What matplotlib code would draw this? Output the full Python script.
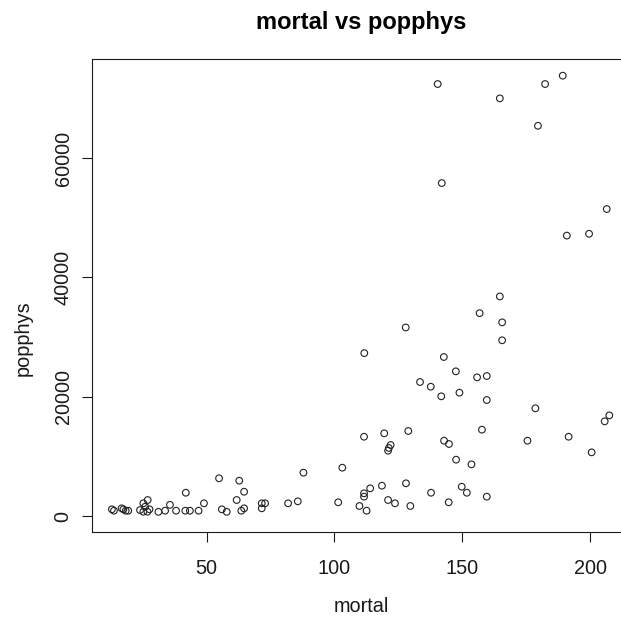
import matplotlib
matplotlib.use("Agg")
import matplotlib.pyplot as plt

# values
mortal = [140.4, 164.7, 182.4, 189.3, 179.6, 142.0, 206.5, 190.9, 199.6,
          164.7, 156.8, 165.6, 127.9, 165.6, 111.7, 142.8, 147.5, 155.8, 159.6,
          133.5, 137.7, 141.8, 148.9, 159.6, 178.6, 207.5, 205.7,
          111.6, 119.5, 128.9, 157.7, 122.0, 121.3, 121.0, 142.9, 144.8, 175.5,
          191.6, 200.6, 147.6, 153.6, 103.1, 87.9,
          114.0, 118.6, 128.0, 111.6, 111.6, 137.8, 149.8, 151.8, 159.6, 101.5,
          109.8, 112.6, 121.0, 123.7, 129.7, 144.7,
          54.9, 62.8, 41.9, 64.7, 61.8, 85.7, 81.9, 72.9, 71.6, 71.6, 64.7, 63.6,
          57.9, 56.0, 49.0, 46.9, 43.5, 41.7, 38.1, 35.7, 33.8, 31.2, 27.0, 25.3,
          26.0, 25.3, 26.9, 27.7, 24.0, 16.8, 17.5, 18.4, 19.4, 13.0, 13.8]
popphys = [72400, 70000, 72400, 73800, 65400, 55800, 51450, 47000, 47300,
           36800, 34000, 32460, 31600, 29450, 27300, 26650, 24250, 23240, 23460,
           22460, 21670, 20060, 20670, 19440, 18050, 16870, 15870,
           13290, 13860, 14250, 14470, 11900, 11400, 10950, 12620, 12070, 12620,
           13290, 10670, 9440, 8660, 8100, 7260,
           4640, 5080, 5480, 3800, 3240, 3900, 4910, 3900, 3240, 2300,
           1680, 890, 2680, 2130, 1680, 2300,
           6320, 5920, 3900, 4070, 2680, 2460, 2130, 2130, 2130, 1290, 1290, 890,
           700, 1120, 2130, 890, 890, 890, 890, 1870, 890, 700, 2680, 2130,
           1560, 720, 720, 1120, 1000, 1290, 1120, 890, 890, 1120, 890]

x_ticks = [50, 100, 150, 200]
y_ticks = [0, 20000, 40000, 60000]

plt.rcParams['font.family'] = ['Liberation Sans', 'DejaVu Sans']
ink = '#1a1a1a'

W = 621
fig = plt.figure(figsize=(6.21, 6.21), dpi=100)
# the plot box runs past the right edge of the picture, as in the reference
ax = fig.add_axes([92.3 / W, 1 - 532 / W, (630 - 92.3) / W, (532 - 58.5) / W])

ax.scatter(mortal, popphys, s=4.8 ** 2, facecolors='none', edgecolors='#222222',
           linewidths=0.8, zorder=3)

ax.set_xlim(5.34, 215.6)
ax.set_ylim(-2680, 76680)
ax.set_xticks(x_ticks)
ax.set_yticks(y_ticks)
ax.set_xticklabels([str(v) for v in x_ticks])
ax.set_yticklabels([str(v) for v in y_ticks], rotation=90, va='center')

for sp in ax.spines.values():
    sp.set_linewidth(0.8)
    sp.set_color(ink)

ax.tick_params(axis='both', direction='out', length=7.2, width=0.8, color=ink,
               labelsize=14.3, labelcolor=ink)
ax.tick_params(axis='x', pad=12)
ax.tick_params(axis='y', pad=6.9)

fig.text(361 / W, 1 - 22 / W, 'mortal vs popphys', ha='center', va='center',
         fontsize=17, fontweight='bold', color='black')
fig.text(361 / W, 1 - 606 / W, 'mortal', ha='center', va='center',
         fontsize=14.3, color=ink)
fig.text(23 / W, 1 - 338 / W, 'popphys', ha='center', va='center',
         rotation=90, fontsize=14.3, color=ink)

fig.savefig('out.png', dpi=100)
